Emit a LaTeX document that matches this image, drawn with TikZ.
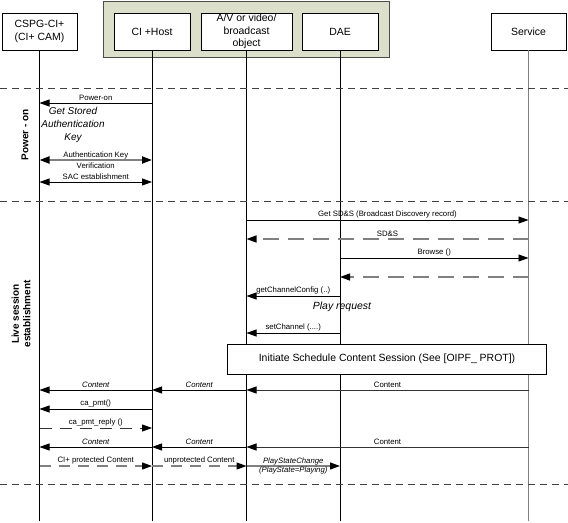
\documentclass[tikz,border=0pt]{standalone}
\usepackage{fontspec}
\setmainfont{Liberation Sans}
\usetikzlibrary{arrows.meta}
\definecolor{grp}{HTML}{DCDFC9}
\definecolor{lgray}{HTML}{808080}
\begin{document}
\begin{tikzpicture}[x=1bp,y=-1bp,
  hdr/.style={draw, line width=0.8bp, fill=white, minimum height=37bp, align=center,
    font=\fontsize{10.5}{12.5}\selectfont, inner sep=0pt},
  life/.style={line width=0.8bp},
  msg/.style={line width=0.9bp, -{Triangle[length=10bp,width=7bp,color=black]}},
  bimsg/.style={line width=0.9bp, {Triangle[length=10bp,width=7bp,color=black]}-{Triangle[length=10bp,width=7bp,color=black]}},
  lab/.style={font=\fontsize{7.8}{8.5}\selectfont, inner sep=1.5bp, above},
  ilab/.style={lab, font=\fontsize{7.8}{8.5}\selectfont\itshape},
  sepline/.style={dash pattern=on 7bp off 5bp, line width=0.8bp, draw=black!75},
  retdash/.style={msg, draw=lgray, line width=1.3bp, dash pattern=on 16bp off 9bp},
  smalldash/.style={msg, draw=lgray, line width=1.2bp, dash pattern=on 11bp off 8bp},
  side/.style={rotate=90, font=\fontsize{10}{11.5}\selectfont\bfseries, align=center},
  note/.style={font=\fontsize{10}{13}\selectfont\itshape, align=center}
]
\useasboundingbox (0,0) rectangle (568,523);

% group box
\draw[fill=grp, draw=black!70, line width=1bp] (103,1.5) rectangle (389,58);

% headers
\node[hdr, minimum width=75bp] (cspg) at (39.5,31.5) {CSPG-CI+\\(CI+ CAM)};
\node[hdr, minimum width=76bp] (host) at (152,31.5) {CI +Host};
\node[hdr, minimum width=91bp] (avo) at (246.5,31.5) {A/V or video/\\broadcast\\object};
\node[hdr, minimum width=76bp] (dae) at (340,31.5) {DAE};
\node[hdr, minimum width=75bp] (svc) at (528.5,31.5) {Service};

% lifeline ends
\foreach \n in {cspg,host,avo,dae,svc} {\coordinate (\n-end) at (\n.south |- 0,521);}
\draw[life] (cspg.south) -- (cspg-end);
\draw[life] (host.south) -- (host-end);
\draw[life] (avo.south) -- (avo-end);
\draw[life] (dae.south) -- (dae-end);
\draw[life, draw=lgray, line width=1bp] (svc.south) -- (svc-end);

% separators
\coordinate (s1l) at (0,88);  \coordinate (s1r) at (568,88);
\coordinate (s2l) at (0,201); \coordinate (s2r) at (568,201);
\coordinate (s3l) at (0,484); \coordinate (s3r) at (568,484);
\draw[sepline] (s1l) -- (s1r);
\draw[sepline] (s2l) -- (s2r);
\draw[sepline] (s3l) -- (s3r);

% side labels
\node[side] (pwlab) at (25,135) {Power - on};
\node[side] (livelab) at (21,314) {Live session\\establishment};

% message rows
\newcommand\mkrow[2]{%
  \path (cspg.south |- 0,#2) coordinate (#1a)
        (host.south |- 0,#2) coordinate (#1b)
        (avo.south  |- 0,#2) coordinate (#1c)
        (dae.south  |- 0,#2) coordinate (#1d)
        (svc.south  |- 0,#2) coordinate (#1e);}
\mkrow{pw}{103}
\mkrow{akv}{160}
\mkrow{sac}{182}
\mkrow{sdA}{220}
\mkrow{sdB}{239}
\mkrow{brA}{258}
\mkrow{brB}{277}
\mkrow{gc}{296}
\mkrow{sc}{333}
\mkrow{ctA}{390}
\mkrow{cp}{409}
\mkrow{cpr}{428}
\mkrow{ctB}{447}
\mkrow{pc}{466}

% power-on phase
\draw[msg] (pwb) -- node[lab]{Power-on} (pwa);
\node[note] (gsak) at (73,125) {Get Stored\\Authentication\\Key};
\draw[bimsg, draw=lgray, line width=2bp] (akva) -- node[font=\fontsize{7.8}{11}\selectfont, align=center, inner sep=0pt]{Authentication Key\\Verification} (akvb);
\draw[bimsg] (saca) -- node[lab]{SAC establishment} (sacb);

% live session
\draw[msg] (sdAc) -- node[lab]{Get SD\&S (Broadcast Discovery record)} (sdAe);
\draw[retdash] (sdBe) -- node[lab, pos=0.5]{SD\&S} (sdBc);
\draw[msg] (brAd) -- node[lab]{Browse ()} (brAe);
\draw[retdash] (brBe) -- (brBd);
\draw[msg] (gcd) -- node[lab]{getChannelConfig (..)} (gcc);
\node[font=\fontsize{10.5}{12}\selectfont\itshape] (playreq) at (342,307) {Play request};
\draw[msg] (scd) -- node[lab]{setChannel (....)} (scc);

\node[draw, fill=white, line width=0.8bp, minimum width=319bp, minimum height=30bp,
  font=\fontsize{10.5}{12}\selectfont, inner sep=0pt] (ics) at (387,359)
  {Initiate Schedule Content Session (See [OIPF\_ PROT])};

\draw[msg, draw=black!80] (ctAe) -- node[lab]{Content} (ctAc);
\draw[msg] (ctAc) -- node[ilab]{Content} (ctAb);
\draw[msg] (ctAb) -- node[ilab]{Content} (ctAa);
\draw[msg] (cpb) -- node[lab]{ca\_pmt()} (cpa);
\draw[msg, dash pattern=on 12bp off 8bp, draw=black!80] (cpra) -- node[lab]{ca\_pmt\_reply ()} (cprb);
\draw[msg, draw=black!80] (ctBe) -- node[lab]{Content} (ctBc);
\draw[msg] (ctBc) -- node[ilab]{Content} (ctBb);
\draw[msg] (ctBb) -- node[ilab]{Content} (ctBa);
\draw[smalldash] (pca) -- node[lab]{CI+ protected Content} (pcb);
\draw[smalldash] (pcb) -- node[lab]{unprotected Content} (pcc);
\draw[msg, draw=lgray, line width=1.2bp] (pcc) -- node[font=\fontsize{7.8}{9}\selectfont\itshape, align=center, inner sep=0pt]{PlayStateChange\\(PlayState=Playing)} (pcd);
\end{tikzpicture}
\end{document}
